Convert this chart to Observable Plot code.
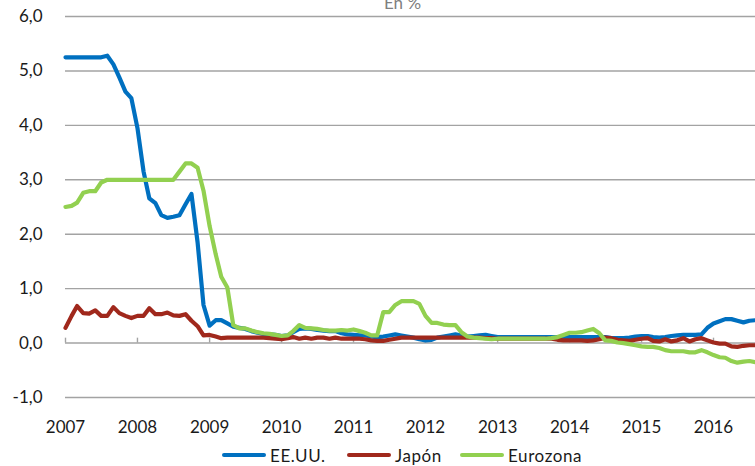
<!DOCTYPE html>
<html>
<head>
<meta charset="utf-8">
<script src="https://cdn.jsdelivr.net/npm/d3@7"></script>
<script src="https://cdn.jsdelivr.net/npm/@observablehq/plot@0.6"></script>
<style>
  html, body { margin: 0; padding: 0; background: #fff; }
  #wrap { position: relative; width: 755px; height: 466px; overflow: hidden; font-family: Lato, "Open Sans", sans-serif; }
  #legend { position: absolute; top: 445px; left: 0; width: 755px; height: 20px; font-size: 17px; color: #1a1a1a; }
  .item { position: absolute; top: 0; display: flex; align-items: center; height: 20px; }
  .sw { display: inline-block; width: 44px; height: 4px; border-radius: 2px; margin-right: 4px; }
  .lbl { letter-spacing: 0.6px; }
</style>
</head>
<body>
<div id="wrap">
  <div id="chart"></div>
  <div id="legend"></div>
</div>
<script>
// Monthly data, January 2007 – August 2016 (%)
const startMonth = "2007-01-01";
const endMonth = "2016-08-01";

const seriesNames = ["EE.UU.", "Japón", "Eurozona"];
const seriesColors = ["#0070C0", "#A0281C", "#92D050"];

const eeuu = [
  5.25,5.25,5.25,5.25,5.25,5.25,5.25,5.28,5.12,4.88,4.62,4.50,
  3.95,3.15,2.66,2.57,2.35,2.30,2.32,2.35,2.55,2.74,1.85,0.70,
  0.32,0.42,0.42,0.36,0.30,0.28,0.26,0.22,0.19,0.17,0.16,0.15,
  0.13,0.14,0.20,0.26,0.27,0.26,0.24,0.23,0.22,0.22,0.18,0.16,
  0.15,0.14,0.14,0.12,0.11,0.12,0.14,0.16,0.14,0.12,0.10,0.07,
  0.05,0.06,0.10,0.12,0.14,0.16,0.14,0.12,0.13,0.14,0.15,0.13,
  0.11,0.11,0.11,0.11,0.11,0.11,0.11,0.11,0.11,0.11,0.11,0.11,
  0.11,0.11,0.11,0.11,0.11,0.11,0.11,0.09,0.09,0.09,0.10,0.12,
  0.13,0.13,0.11,0.10,0.11,0.13,0.14,0.15,0.15,0.15,0.16,0.28,
  0.36,0.40,0.44,0.44,0.41,0.38,0.41,0.42
];

const japon = [
  0.28,0.50,0.68,0.55,0.54,0.60,0.50,0.50,0.66,0.55,0.50,0.46,
  0.50,0.50,0.64,0.53,0.53,0.56,0.51,0.50,0.53,0.41,0.31,0.14,
  0.15,0.12,0.09,0.10,0.10,0.10,0.10,0.10,0.10,0.10,0.09,0.08,
  0.07,0.09,0.11,0.08,0.10,0.08,0.10,0.10,0.08,0.10,0.08,0.08,
  0.08,0.08,0.07,0.05,0.04,0.04,0.06,0.08,0.10,0.10,0.10,0.10,
  0.10,0.10,0.10,0.10,0.10,0.10,0.10,0.10,0.10,0.10,0.09,0.09,
  0.08,0.08,0.08,0.08,0.08,0.08,0.08,0.08,0.08,0.08,0.06,0.05,
  0.05,0.05,0.05,0.04,0.05,0.07,0.10,0.09,0.06,0.05,0.04,0.06,
  0.08,0.09,0.04,0.03,0.07,0.03,0.05,0.09,0.03,0.07,0.09,0.05,
  0.01,-0.01,-0.01,-0.06,-0.07,-0.05,-0.04,-0.04
];

const eurozona = [
  2.50,2.52,2.58,2.76,2.79,2.79,2.95,3.00,3.00,3.00,3.00,3.00,
  3.00,3.00,3.00,3.00,3.00,3.00,3.00,3.15,3.30,3.30,3.22,2.80,
  2.15,1.63,1.22,1.02,0.33,0.27,0.27,0.23,0.20,0.18,0.17,0.15,
  0.13,0.14,0.22,0.33,0.28,0.27,0.26,0.24,0.23,0.23,0.24,0.23,
  0.25,0.22,0.19,0.14,0.14,0.57,0.57,0.70,0.77,0.77,0.77,0.72,
  0.50,0.37,0.37,0.34,0.33,0.33,0.20,0.12,0.10,0.09,0.08,0.07,
  0.08,0.08,0.08,0.08,0.08,0.08,0.08,0.08,0.08,0.09,0.11,0.15,
  0.19,0.19,0.20,0.23,0.26,0.18,0.05,0.04,0.01,0.00,-0.02,-0.04,
  -0.06,-0.07,-0.07,-0.09,-0.13,-0.15,-0.15,-0.15,-0.17,-0.17,-0.13,-0.17,
  -0.22,-0.26,-0.27,-0.33,-0.36,-0.34,-0.33,-0.35
];

const yTicks = [-1, 0, 1, 2, 3, 4, 5, 6];
const yearTicks = ["2007","2008","2009","2010","2011","2012","2013","2014","2015","2016"];
const unitLabel = "En %";

// Build the long table
const months = d3.utcMonth.range(new Date(startMonth), d3.utcMonth.offset(new Date(endMonth), 1));
const seriesValues = [eeuu, japon, eurozona];
const rows = [];
seriesNames.forEach((name, s) => {
  seriesValues[s].forEach((v, i) => rows.push({date: months[i], value: v, serie: name}));
});
const yearDates = yearTicks.map(y => new Date(`${y}-01-01`));

const fmt = d => d.toFixed(1).replace(".", ",");

const chart = Plot.plot({
  width: 755,
  height: 440,
  marginLeft: 65,
  marginRight: 0,
  marginTop: 16,
  marginBottom: 43,
  style: {fontFamily: "Lato, 'Open Sans', sans-serif", fontSize: "17px", color: "#1a1a1a", background: "#fff"},
  x: {type: "utc", domain: [new Date(startMonth), new Date(endMonth)]},
  y: {domain: [-1, 6]},
  color: {domain: seriesNames, range: seriesColors},
  marks: [
    Plot.ruleY(yTicks, {stroke: "#a3a3a3", strokeWidth: 1.4}),
    Plot.ruleX(yearDates, {x: d => d, y1: 0, y2: 0.09, stroke: "#a3a3a3", strokeWidth: 1.4}),
    Plot.axisY(yTicks, {tickSize: 0, tickPadding: 23, tickFormat: fmt, label: null, fill: "#1a1a1a"}),
    Plot.axisX(yearDates, {tickSize: 0, tickPadding: 23, tickFormat: d => d3.utcFormat("%Y")(d), label: null, fill: "#1a1a1a"}),
    Plot.line(rows, {x: "date", y: "value", z: "serie", stroke: "serie", strokeWidth: 4.2, strokeLinejoin: "round", strokeLinecap: "round"}),
    Plot.text([unitLabel], {frameAnchor: "top", dx: -8, dy: -8, lineAnchor: "bottom", fill: "#7f7f7f", fontSize: 17})
  ]
});
document.getElementById("chart").appendChild(chart);

// Legend
const legend = document.getElementById("legend");
const lefts = [222, 347, 460];
seriesNames.forEach((name, i) => {
  const it = document.createElement("div");
  it.className = "item";
  it.style.left = lefts[i] + "px";
  it.innerHTML = `<span class="sw" style="background:${seriesColors[i]}"></span><span class="lbl">${name}</span>`;
  legend.appendChild(it);
});
</script>
</body>
</html>
